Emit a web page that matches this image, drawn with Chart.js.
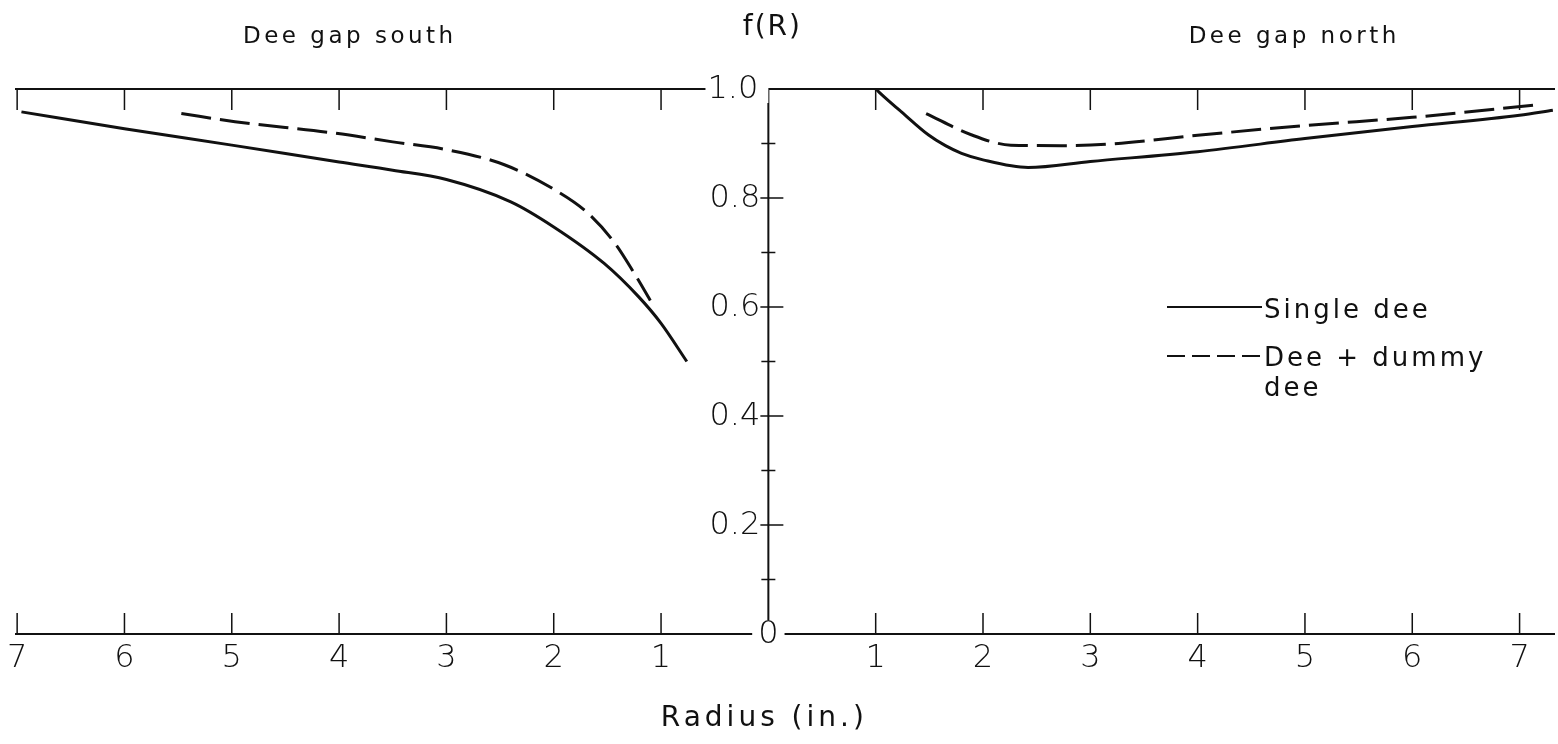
<!DOCTYPE html>
<html>
<head>
<meta charset="utf-8">
<script src="https://cdn.jsdelivr.net/npm/chart.js@4/dist/chart.umd.min.js"></script>
<style>
  body { margin: 0; background: #fff; }
  canvas { display: block; }
</style>
</head>
<body>
<canvas id="myChart" width="1558" height="744"></canvas>
<script>
// radius (in.) and f(R), south side is drawn to the left
const southSingleR = [6.96, 6, 5, 4, 3.5, 3, 2.4, 2, 1.53, 1.21, 1.0, 0.76]
const southSingleF = [0.958, 0.927, 0.897, 0.866, 0.851, 0.834, 0.793, 0.747, 0.68, 0.619, 0.57, 0.5]
const southDummyR = [5.47, 4.97, 4.04, 3.5, 2.98, 2.46, 1.99, 1.68, 1.43, 1.25, 1.1]
const southDummyF = [0.955, 0.94, 0.919, 0.903, 0.888, 0.861, 0.815, 0.772, 0.717, 0.662, 0.612]
const northSingleR = [1.0, 1.1, 1.24, 1.49, 1.65, 1.8, 2.0, 2.42, 3.0, 4.0, 5.0, 6.0, 7.0, 7.31]
const northSingleF = [1.0, 0.982, 0.958, 0.916, 0.896, 0.882, 0.87, 0.856, 0.867, 0.885, 0.909, 0.931, 0.952, 0.961]
const northDummyR = [1.47, 1.89, 2.26, 2.73, 3.19, 4.0, 5.0, 6.0, 7.17]
const northDummyF = [0.955, 0.916, 0.897, 0.896, 0.899, 0.915, 0.933, 0.948, 0.971]

const radiusTicks = [1, 2, 3, 4, 5, 6, 7]
const fMajorTicks = [0.2, 0.4, 0.6, 0.8]
const fMinorTicks = [0.1, 0.3, 0.5, 0.7, 0.9]
const fLabels = ['0', '0.2', '0.4', '0.6', '0.8', '1.0']
const legendLabels = ['Single dee', 'Dee + dummy', 'dee']
const sideTitles = ['Dee gap south', 'Dee gap north']

const INK = '#111'
const FONT = '"DejaVu Sans", sans-serif'

function pts(rs, fs, sign) {
    return rs.map((r, i) => ({ x: sign * r, y: fs[i] }))
}

function line(data, dashed) {
    return {
        data: data,
        borderColor: INK,
        borderWidth: 3,
        borderDash: dashed ? [30, 9] : [],
        pointRadius: 0,
        cubicInterpolationMode: 'monotone',
        fill: false
    }
}

const frame = {
    id: 'frame',
    beforeDatasetsDraw(chart) {
        const ctx = chart.ctx
        const x = chart.scales.x
        const y = chart.scales.y
        const a = chart.chartArea
        const x0 = x.getPixelForValue(0)
        ctx.save()
        ctx.strokeStyle = INK
        ctx.lineWidth = 2
        ctx.beginPath()
        ctx.moveTo(a.left, a.top); ctx.lineTo(a.right, a.top)
        ctx.moveTo(a.left, a.bottom); ctx.lineTo(a.right, a.bottom)
        ctx.moveTo(x0, a.top); ctx.lineTo(x0, a.bottom)
        ctx.stroke()

        ctx.lineWidth = 1.5
        ctx.beginPath()
        radiusTicks.forEach(r => {
            [-r, r].forEach(v => {
                const px = x.getPixelForValue(v)
                ctx.moveTo(px, a.top); ctx.lineTo(px, a.top + 21)
                ctx.moveTo(px, a.bottom); ctx.lineTo(px, a.bottom - 21)
            })
        })
        fMajorTicks.forEach(v => {
            const py = y.getPixelForValue(v)
            ctx.moveTo(x0 - 8, py); ctx.lineTo(x0 + 15, py)
        })
        fMinorTicks.forEach(v => {
            const py = y.getPixelForValue(v)
            ctx.moveTo(x0 - 7, py); ctx.lineTo(x0 + 7, py)
        })
        ctx.stroke()
        ctx.restore()
    },
    afterDraw(chart) {
        const ctx = chart.ctx
        const x = chart.scales.x
        const y = chart.scales.y
        const a = chart.chartArea
        const x0 = x.getPixelForValue(0)
        ctx.save()
        ctx.fillStyle = INK

        // y labels
        ctx.font = '300 32px ' + FONT
        ctx.textBaseline = 'middle'
        fLabels.forEach((t, i) => {
            const v = i * 0.2
            const py = y.getPixelForValue(v)
            if (i === 0) {
                ctx.textAlign = 'center'
                const w = ctx.measureText(t).width
                ctx.fillStyle = '#fff'
                ctx.fillRect(x0 - w / 2 - 6, py - 14, w + 12, 28)
                ctx.fillStyle = INK
                ctx.fillText(t, x0, py + 1)
            } else if (i === fLabels.length - 1) {
                ctx.textAlign = 'right'
                const w = ctx.measureText(t).width
                ctx.fillStyle = '#fff'
                ctx.fillRect(x0 - w - 12, py - 14, w + 12, 28)
                ctx.fillStyle = INK
                ctx.fillText(t, x0 - 10, py + 1)
            } else {
                ctx.textAlign = 'right'
                ctx.fillText(t, x0 - 8, py + 1)
            }
        })

        // radius labels both ways from the centre
        ctx.textAlign = 'center'
        radiusTicks.forEach(r => {
            [-r, r].forEach(v => {
                ctx.fillText(String(r), x.getPixelForValue(v), a.bottom + 25)
            })
        })

        // titles
        ctx.letterSpacing = '3.5px'
        ctx.font = '23px ' + FONT
        ctx.fillText(sideTitles[0], x.getPixelForValue(-3.9), 37)
        ctx.fillText(sideTitles[1], x.getPixelForValue(4.9), 37)
        ctx.font = '28px ' + FONT
        ctx.letterSpacing = '2px'
        ctx.fillText('f(R)', x0 + 4, 28)
        ctx.letterSpacing = '4px'
        ctx.fillText('Radius (in.)', x0 - 4, 719)

        // legend
        const lx = 1167, lw = 95
        ctx.strokeStyle = INK
        ctx.lineWidth = 2
        ctx.beginPath()
        ctx.moveTo(lx, 307); ctx.lineTo(lx + lw, 307)
        ctx.stroke()
        ctx.setLineDash([18, 7])
        ctx.beginPath()
        ctx.moveTo(lx, 356); ctx.lineTo(lx + lw, 356)
        ctx.stroke()
        ctx.setLineDash([])
        ctx.letterSpacing = '3px'
        ctx.font = '26px ' + FONT
        ctx.textAlign = 'left'
        ctx.textBaseline = 'alphabetic'
        ctx.fillText(legendLabels[0], lx + lw + 2, 318)
        ctx.fillText(legendLabels[1], lx + lw + 2, 366)
        ctx.fillText(legendLabels[2], lx + lw + 2, 396)
        ctx.restore()
    }
}

new Chart(document.getElementById('myChart'), {
    type: 'line',
    data: {
        datasets: [
            line(pts(southSingleR, southSingleF, -1), false),
            line(pts(southDummyR, southDummyF, -1), true),
            line(pts(northSingleR, northSingleF, 1), false),
            line(pts(northDummyR, northDummyF, 1), true)
        ]
    },
    options: {
        responsive: false,
        animation: false,
        layout: { padding: { left: 15, right: 3, top: 89, bottom: 110 } },
        plugins: { legend: { display: false }, tooltip: { enabled: false } },
        scales: {
            x: { type: 'linear', min: -7.02, max: 7.33, display: false },
            y: { min: 0, max: 1, display: false }
        }
    },
    plugins: [frame]
})
</script>
</body>
</html>
